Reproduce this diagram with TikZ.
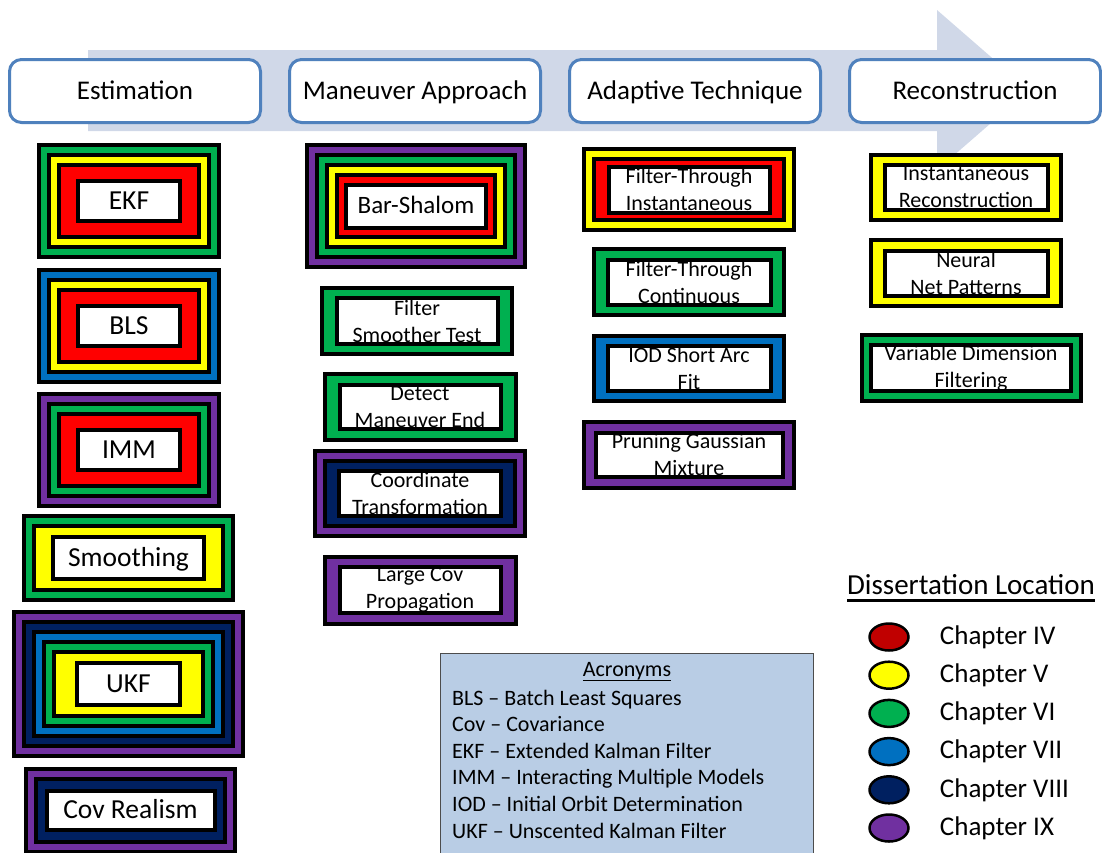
\documentclass[tikz,border=0pt]{standalone}
\usepackage{fontspec}
\setmainfont{Carlito}
\usepackage{tikz}
\usetikzlibrary{shapes.geometric, positioning}
\definecolor{chred}{HTML}{FF0000}
\definecolor{chdark}{HTML}{C00000}
\definecolor{chyellow}{HTML}{FFFF00}
\definecolor{chgreen}{HTML}{00B050}
\definecolor{chblue}{HTML}{0070C0}
\definecolor{chnavy}{HTML}{002060}
\definecolor{chpurple}{HTML}{7030A0}
\definecolor{hdblue}{HTML}{4F81BD}
\definecolor{hdband}{HTML}{D0D8E8}
\definecolor{acrofill}{HTML}{B9CDE5}

% underline: thickness, gap below baseline, text
\newcommand{\uwith}[3]{\setbox0\hbox{#3}\rlap{\vrule width\wd0 height -#2 depth \dimexpr#2+#1\relax}\box0}

% rings drawn outer first, each 10pt in from the last; white core with the label on top
\newcommand{\nestbox}[9]{%
  \foreach \c [count=\i from 0] in {#5}
    \node[ring, fill=\c, minimum width=#3-4-20*\i, minimum height=#4-4-20*\i] (#1-r\i) at (#2) {};
  \node[core, #8, minimum width=#6-4, minimum height=#7-4] (#1) at (#2) {#9};
}

\begin{document}
\begin{tikzpicture}[
    x=1pt, y=-1pt,
    node distance=26pt,
    head/.style={rectangle, draw=hdblue, fill=white, line width=3pt, rounded corners=12pt, minimum width=251pt, minimum height=63pt, text height=19pt, text depth=2pt, font=\fontsize{27}{32}\selectfont},
    ring/.style={rectangle, draw=black, line width=4pt, inner sep=0pt},
    core/.style={rectangle, draw=black, fill=white, line width=4pt, inner sep=0pt, align=center},
    bigtxt/.style={font=\fontsize{27.5}{32}\selectfont, text height=19pt, text depth=2pt},
    midtxt/.style={font=\fontsize{25}{30}\selectfont, text height=17pt, text depth=2pt},
    smalltxt/.style={font=\fontsize{22}{27}\selectfont},
    acrotxt/.style={font=\fontsize{22}{26}\selectfont, inner sep=0pt},
    dot/.style={ellipse, draw=black, line width=2.5pt, minimum width=39pt, minimum height=27pt, inner sep=0pt},
    legtxt/.style={font=\fontsize{27}{32}\selectfont, inner sep=0pt}
]
\useasboundingbox (0,0) rectangle (1102,852);

\fill[hdband] (88,50) -- (937,50) -- (937,10) -- (1029,90) -- (937,170) -- (937,131) -- (88,131) -- cycle;

\node[head] (est) at (135,91) {Estimation};
\node[head, right=of est] (man) {Maneuver Approach};
\node[head, right=of man] (ada) {Adaptive Technique};
\node[head, right=of ada] (rec) {Reconstruction};

\nestbox{ekf}{129,201}{184}{116}{chgreen,chyellow,chred}{106}{44}{bigtxt}{EKF}
\nestbox{bls}{129,326}{184}{116}{chblue,chyellow,chred}{106}{44}{bigtxt}{BLS}
\nestbox{imm}{129,450}{184}{116}{chpurple,chgreen,chred}{106}{44}{bigtxt}{IMM}
\nestbox{smo}{128.5,558}{213}{88}{chgreen,chyellow}{155}{46}{bigtxt}{Smoothing}
\nestbox{ukf}{128.5,684}{233}{148}{chpurple,chnavy,chblue,chgreen,chyellow}{107}{46}{bigtxt}{UKF}
\nestbox{cvr}{130.5,810}{213}{87}{chpurple,chnavy}{172}{43}{bigtxt}{Cov Realism}

\nestbox{bar}{416,206}{222}{126}{chpurple,chgreen,chyellow,chred}{144}{47}{midtxt}{Bar-Shalom}
\nestbox{fst}{417,321}{194}{70}{chgreen}{165}{50}{smalltxt}{Filter\\Smoother Test}
\nestbox{dme}{420,407}{195}{70}{chgreen}{165}{48}{smalltxt}{Detect\\Maneuver End}
\nestbox{cot}{420,493}{214}{89}{chpurple,chnavy}{166}{49}{smalltxt}{Coordinate\\Transformation}
\nestbox{lcp}{420,590}{195}{71}{chpurple}{165}{49}{smalltxt}{Large Cov\\Propagation}

\nestbox{fti}{689,189.5}{214}{85}{chyellow,chred}{165}{50}{smalltxt}{Filter-Through\\Instantaneous}
\nestbox{ftc}{689,282}{194}{70}{chgreen}{167}{49}{smalltxt}{Filter-Through\\Continuous}
\nestbox{iod}{689,368}{194}{69}{chblue}{167}{49}{smalltxt}{IOD Short Arc\\Fit}
\nestbox{pgm}{689,455}{214}{70}{chpurple}{191}{48}{smalltxt}{Pruning Gaussian\\Mixture}

\nestbox{ire}{966,187}{194}{69}{chyellow}{167}{49}{smalltxt}{Instantaneous\\Reconstruction}
\nestbox{nnp}{966,273}{194}{70}{chyellow}{167}{49}{smalltxt}{Neural\\Net Patterns}
\nestbox{vdf}{971,368}{223}{70}{chgreen}{204}{49}{smalltxt}{Variable Dimension\\Filtering}

\node[rectangle, draw=black!70, fill=acrofill, line width=1pt, anchor=north west, minimum width=373pt, minimum height=215pt] (acro) at (440,653) {};
\node[acrotxt] (acrohead) at (627,672) {\uwith{1.2pt}{3pt}{Acronyms}};
\foreach \ln [count=\i from 0] in {BLS -- Batch Least Squares, Cov -- Covariance, EKF -- Extended Kalman Filter, IMM -- Interacting Multiple Models, IOD -- Initial Orbit Determination, UKF -- Unscented Kalman Filter}
  \node[acrotxt, anchor=base west] (acro\i) at (452,705+26.6*\i) {\ln};

\node[legtxt, font=\fontsize{29}{34}\selectfont] (leghead) at (971,588) {\uwith{2.5pt}{5pt}{Dissertation Location}};
\foreach \col/\lab [count=\i from 0] in {chdark/IV, chyellow/V, chgreen/VI, chblue/VII, chnavy/VIII, chpurple/IX} {
  \node[dot, fill=\col] (dot\i) at (889,637+38.2*\i) {};
  \node[legtxt, right=30pt of dot\i] (lab\i) {Chapter \lab};
}
\end{tikzpicture}
\end{document}
